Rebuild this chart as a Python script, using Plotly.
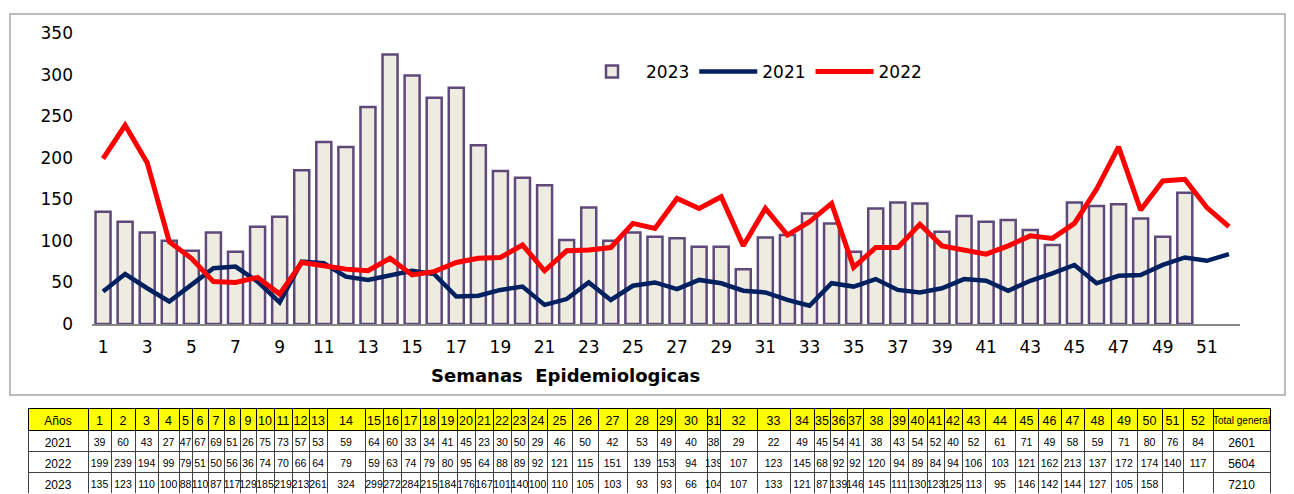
import plotly.graph_objects as go

# Casos por semana epidemiologica
semanas = list(range(1, 53))

casos_2021 = [39, 60, 43, 27, 47, 67, 69, 51, 26, 75, 73, 57, 53, 59, 64, 60, 33, 34,
              41, 45, 23, 30, 50, 29, 46, 50, 42, 53, 49, 40, 38, 29, 22, 49, 45, 54,
              41, 38, 43, 54, 52, 40, 52, 61, 71, 49, 58, 59, 71, 80, 76, 84]
casos_2022 = [199, 239, 194, 99, 79, 51, 50, 56, 36, 74, 70, 66, 64, 79, 59, 63, 74, 79,
              80, 95, 64, 88, 89, 92, 121, 115, 151, 139, 153, 94, 139, 107, 123, 145, 68,
              92, 92, 120, 94, 89, 84, 94, 106, 103, 121, 162, 213, 137, 172, 174, 140, 117]
casos_2023 = [135, 123, 110, 100, 88, 110, 87, 117, 129, 185, 219, 213, 261, 324, 299, 272,
              284, 215, 184, 176, 167, 101, 140, 100, 110, 105, 103, 93, 93, 66, 104, 107,
              133, 121, 87, 139, 146, 145, 111, 130, 123, 125, 113, 95, 146, 142, 144, 127,
              105, 158]

anios = ["2021", "2022", "2023"]
total_general = [2601, 5604, 7210]

# Anchos de columna de la tabla (px aprox.)
col_widths = [60, 23, 24, 23, 21, 13, 16, 16, 16, 16, 18, 18, 17, 18, 38, 18, 18, 19, 18,
              19, 18, 18, 18, 17, 19, 25, 26, 29, 30, 18, 32, 13, 37, 33, 24, 16, 17, 16,
              27, 18, 19, 17, 18, 23, 30, 23, 23, 23, 27, 26, 25, 21, 30, 57]

# el body del html deja 8 px de margen
OFF = 8
W, H = 1294 - OFF, 494 - OFF


def fx(px):
    return (px - OFF) / W


def fy(py):
    return 1 - (py - OFF) / H


FONT = "Verdana, DejaVu Sans, sans-serif"
TFONT = "Liberation Sans Narrow, Arial Narrow, Liberation Sans, Arial, sans-serif"

fig = go.Figure()

fig.add_trace(
    go.Bar(
        name="2023",
        x=semanas[: len(casos_2023)],
        y=casos_2023,
        width=0.68,
        marker=dict(color="#EEECE1", line=dict(color="#5F497A", width=2.5)),
    )
)
fig.add_trace(
    go.Scatter(
        name="2021",
        mode="lines",
        x=semanas,
        y=casos_2021,
        line=dict(color="#002060", width=4.5),
    )
)
fig.add_trace(
    go.Scatter(
        name="2022",
        mode="lines",
        x=semanas,
        y=casos_2022,
        line=dict(color="#FF0000", width=5),
    )
)

# Tabla de datos
header_vals = ["Años"] + [str(s) for s in semanas] + ["Total\u00a0general"]
cols = [anios]
for i in range(len(semanas)):
    v23 = str(casos_2023[i]) if i < len(casos_2023) else ""
    cols.append([str(casos_2021[i]), str(casos_2022[i]), v23])
cols.append([str(t) for t in total_general])

head_sizes = [12] + [12.5] * len(semanas) + [10]
cell_sizes = [12] + [10.5] * len(semanas) + [12]

fig.add_trace(
    go.Table(
        domain=dict(x=[fx(28), fx(1270)], y=[0, fy(408)]),
        columnwidth=col_widths,
        header=dict(
            values=header_vals,
            fill_color="#FFFF00",
            line=dict(color="#000000", width=1),
            align="center",
            height=22,
            font=dict(family=TFONT, size=head_sizes, color="#000000"),
        ),
        cells=dict(
            values=cols,
            fill_color="#FFFFFF",
            line=dict(color="#404040", width=1),
            align="center",
            height=21,
            font=dict(family=TFONT, size=cell_sizes, color="#000000"),
        ),
    )
)

fig.update_layout(
    width=W,
    height=H,
    margin=dict(l=0, r=0, t=0, b=0, autoexpand=False),
    paper_bgcolor="white",
    plot_bgcolor="white",
    showlegend=True,
    legend=dict(
        orientation="h",
        x=fx(578),
        y=fy(72),
        xanchor="left",
        yanchor="middle",
        font=dict(family=FONT, size=17, color="#000000"),
        itemwidth=58,
        bgcolor="rgba(0,0,0,0)",
    ),
    xaxis=dict(
        domain=[fx(92), fx(1240)],
        range=[0.5, 52.5],
        tickvals=semanas[::2],
        showgrid=False,
        zeroline=False,
        showline=True,
        linecolor="#868686",
        linewidth=1.5,
        ticks="",
        automargin=False,
        ticklabelstandoff=7,
        tickfont=dict(family=FONT, size=17, color="#000000"),
    ),
    yaxis=dict(
        domain=[fy(324), fy(33)],
        range=[0, 350],
        tickvals=list(range(0, 351, 50)),
        showgrid=False,
        zeroline=False,
        showline=False,
        ticks="",
        automargin=False,
        ticklabelstandoff=18,
        tickfont=dict(family=FONT, size=17, color="#000000"),
    ),
    annotations=[
        dict(
            text="<b>Semanas\u00a0 Epidemiologicas</b>",
            x=fx(565),
            y=fy(375),
            xref="paper",
            yref="paper",
            xanchor="center",
            yanchor="middle",
            showarrow=False,
            font=dict(family=FONT, size=18, color="#000000"),
        )
    ],
    shapes=[
        dict(
            type="rect",
            xref="paper",
            yref="paper",
            x0=fx(10),
            x1=fx(1285),
            y0=fy(395),
            y1=fy(14),
            line=dict(color="#A6A6A6", width=1.5),
            layer="below",
        )
    ],
)

fig.write_html("out.html")
